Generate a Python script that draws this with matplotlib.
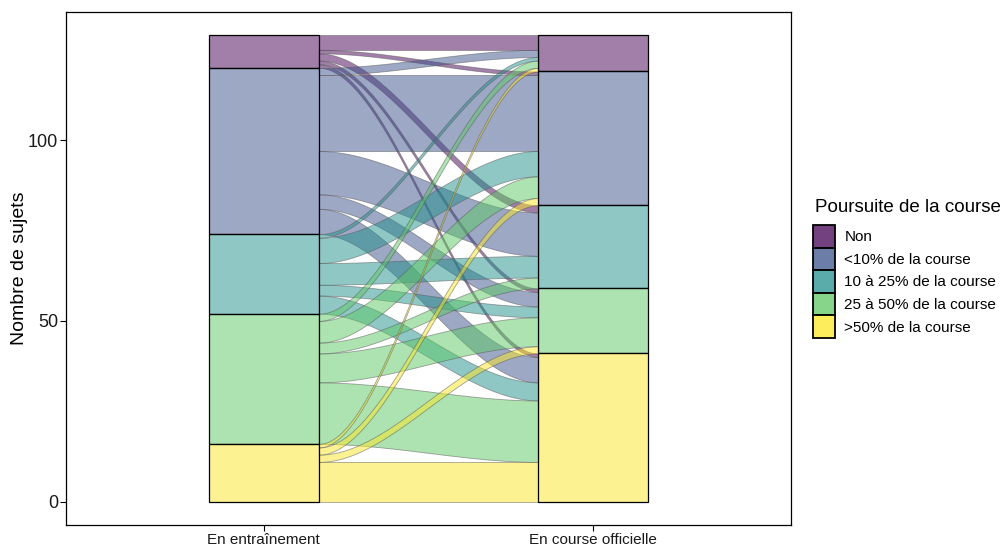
import numpy as np
import matplotlib.pyplot as plt
from matplotlib.colors import to_rgba
from matplotlib.patches import Patch

plt.rcParams["font.family"] = ["Liberation Sans", "DejaVu Sans"]

# categories (top to bottom in the stacks)
categories = ["Non", "<10% de la course", "10 à 25% de la course",
              "25 à 50% de la course", ">50% de la course"]
colors = ["#440154", "#3B528B", "#21908C", "#5DC863", "#FDE725"]
axis_labels = ["En entraînement", "En course officielle"]

# number of subjects: training category (row) -> race category (column)
from_non = [4, 1, 2, 1, 1]
from_lt10 = [2, 21, 12, 4, 7]
from_10_25 = [1, 7, 6, 3, 5]
from_25_50 = [2, 6, 3, 8, 17]
from_gt50 = [1, 2, 0, 2, 11]
flows = np.array([from_non, from_lt10, from_10_25, from_25_50, from_gt50])

left_tot = flows.sum(axis=1)
right_tot = flows.sum(axis=0)
total = flows.sum()
n = len(categories)


def stack_tops(tot):
    # first category on top
    return total - np.concatenate([[0], np.cumsum(tot)[:-1]])


left_tops = stack_tops(left_tot)
right_tops = stack_tops(right_tot)

fig = plt.figure(figsize=(10.04, 5.46), dpi=100)
ax = fig.add_axes([66 / 1004, 21 / 546, 725 / 1004, 513 / 546])

w = 1 / 3
x0, x1 = 1 + w / 2, 2 - w / 2
xs = np.linspace(x0, x1, 120)
t = (xs - x0) / (x1 - x0)
s = t * t * (3 - 2 * t)

# position of each flow at both ends
left_pos = {}
for i in range(n):
    top = left_tops[i]
    for j in range(n):
        if flows[i, j]:
            left_pos[(i, j)] = (top - flows[i, j], top)
            top -= flows[i, j]
right_pos = {}
for j in range(n):
    top = right_tops[j]
    for i in range(n):
        if flows[i, j]:
            right_pos[(i, j)] = (top - flows[i, j], top)
            top -= flows[i, j]

for i in range(n):
    for j in range(n):
        if not flows[i, j]:
            continue
        lb, lt = left_pos[(i, j)]
        rb, rt = right_pos[(i, j)]
        lo = lb + (rb - lb) * s
        hi = lt + (rt - lt) * s
        ax.fill_between(xs, lo, hi, facecolor=to_rgba(colors[i], 0.5),
                        edgecolor=(0.35, 0.35, 0.35, 0.55), lw=0.6, zorder=2)

for k, tops in enumerate([left_tops, right_tops]):
    tot = left_tot if k == 0 else right_tot
    for i in range(n):
        ax.bar(k + 1, tot[i], bottom=tops[i] - tot[i], width=w,
               facecolor=to_rgba(colors[i], 0.5), edgecolor="black",
               lw=0.9, zorder=3)

ax.set_xlim(0.4, 2.6)
ax.set_ylim(-0.05 * total, total * 1.05)
ax.set_xticks([1, 2], axis_labels)
ax.set_yticks([0, 50, 100])
ax.tick_params(axis="x", labelsize=11, length=4, width=0.8, pad=1.5)
ax.tick_params(axis="y", labelsize=13, length=4, width=0.8, pad=1.5)
for lab in ax.get_xticklabels() + ax.get_yticklabels():
    lab.set_color("#1a1a1a")
ax.set_ylabel("Nombre de sujets", fontsize=14)
ax.yaxis.set_label_coords(-0.052, 0.5)
for sp in ax.spines.values():
    sp.set_linewidth(0.9)

fig.text(815 / 1004, 1 - 208 / 546, "Poursuite de la course",
         fontsize=13.5, va="center", ha="left")
handles = [Patch(facecolor=to_rgba(c, 0.75), edgecolor="black", lw=1.3)
           for c in colors]
leg = fig.legend(handles, categories,
                 loc="upper left", bbox_to_anchor=(813 / 1004, 1 - 225 / 546),
                 frameon=False, fontsize=11,
                 handlelength=1.45, handleheight=1.9, handletextpad=0.6,
                 labelspacing=0.0, borderaxespad=0, borderpad=0)

fig.savefig("out.png", dpi=100)
